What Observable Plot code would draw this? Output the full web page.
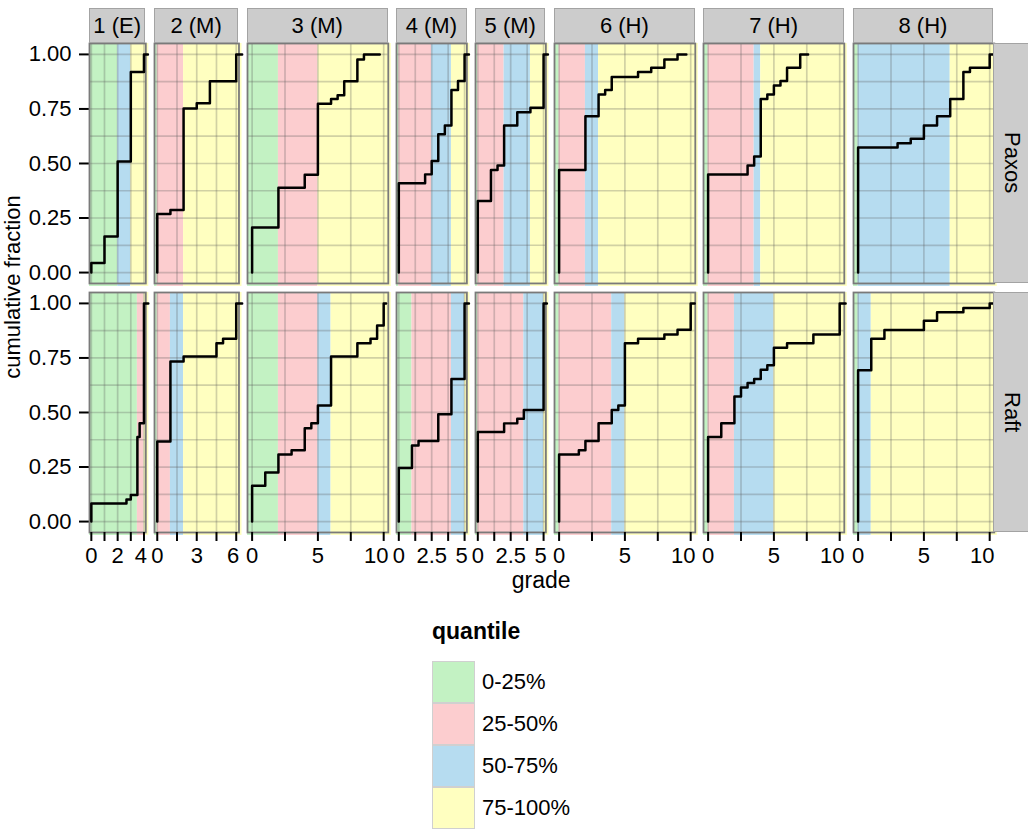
<!DOCTYPE html>
<html><head><meta charset="utf-8">
<script src="https://cdn.jsdelivr.net/npm/d3@7"></script>
<script src="https://cdn.jsdelivr.net/npm/@observablehq/plot@0.6"></script>
<style>
body{margin:0;background:#fff;font-family:"Liberation Sans",Arial,Helvetica,sans-serif;color:#000;}
#root{position:relative;width:1028px;height:833px;overflow:hidden;}
.abs{position:absolute;}
.strip{position:absolute;background:#cccccc;border:1px solid #a3a3a3;box-sizing:border-box;display:flex;align-items:center;justify-content:center;font-size:22px;color:#000;}
.vstrip{writing-mode:vertical-rl;}
.key{position:absolute;box-sizing:border-box;border:1px solid #d0d0d0;}
.lab{position:absolute;font-size:22px;line-height:22px;white-space:nowrap;}
svg [aria-label$="axis tick"], svg .tick line{stroke-width:2px;}
</style></head><body><div id="root"></div>
<script>
// ---------- data ----------
const assignments = ["1 (E)", "2 (M)", "3 (M)", "4 (M)", "5 (M)", "6 (H)", "7 (H)", "8 (H)"];
const algorithms = ["Paxos", "Raft"];
const gradeMax = [4, 6, 10, 5, 5, 10, 10, 10];
const quantileLabels = ["0-25%", "25-50%", "50-75%", "75-100%"];
const quantileColors = ["#c3f2c3", "#fccdcf", "#b6dcf0", "#ffffc0"];
const yTicks = [0, 0.25, 0.5, 0.75, 1];
const yGrid = [0, 0.125, 0.25, 0.375, 0.5, 0.625, 0.75, 0.875, 1];

// Paxos: grades where the cumulative fraction steps up, and the fraction after each step
const paxosGrades = [
  [0, 1, 2, 3, 4],
  [0, 1, 2, 3, 4, 6],
  [0, 2, 4, 5, 6, 6.5, 7, 8, 8.5],
  [0, 2, 2.5, 3, 3.5, 4, 4.5, 5],
  [0, 1, 1.5, 2, 3, 4, 5],
  [0, 2, 3, 3.5, 4, 6, 7, 8, 9],
  [0, 3, 3.5, 4, 4.5, 5, 5.5, 6, 7],
  [0, 3, 4, 5, 6, 7, 8, 8.5, 10]
];
const paxosFractions = [
  [0.044, 0.165, 0.509, 0.919, 1],
  [0.268, 0.287, 0.752, 0.776, 0.877, 1],
  [0.206, 0.389, 0.448, 0.774, 0.796, 0.813, 0.877, 0.977, 1],
  [0.409, 0.45, 0.511, 0.634, 0.674, 0.837, 0.878, 1],
  [0.328, 0.470, 0.491, 0.674, 0.735, 0.755, 1],
  [0.470, 0.717, 0.816, 0.837, 0.896, 0.919, 0.939, 0.977, 1],
  [0.45, 0.491, 0.532, 0.796, 0.816, 0.857, 0.878, 0.939, 1],
  [0.573, 0.593, 0.613, 0.674, 0.717, 0.796, 0.919, 0.939, 1]
];
const paxosLineEnd = [4.3, 6.45, 9.7, 5.33, 5.33, 9.67, 7.6, 10.25];
const paxosQuartiles = [[2, 2, 3], [0, 2, 2], [2, 5, 5], [0, 2.5, 4], [0, 2, 4], [0, 2, 3], [0, 3.5, 4], [0, 0, 7]];

// Raft
const raftGrades = [
  [0, 2.67, 3, 3.5, 3.67, 4],
  [0, 1, 2, 4.5, 5, 6],
  [0, 1, 2, 3, 4, 4.5, 5, 6, 8, 9, 9.5, 10],
  [0, 1, 1.5, 3, 4, 5],
  [0, 2, 3, 3.5, 5],
  [0, 1.5, 2, 3, 4, 4.5, 5, 6, 8, 9, 10],
  [0, 1, 2, 2.5, 3, 3.5, 4, 4.5, 5, 6, 8, 10],
  [0, 1, 2, 5, 6, 8, 10]
];
const raftFractions = [
  [0.083, 0.101, 0.122, 0.388, 0.451, 1],
  [0.367, 0.734, 0.757, 0.817, 0.838, 1],
  [0.164, 0.225, 0.307, 0.327, 0.428, 0.451, 0.532, 0.757, 0.817, 0.838, 0.899, 1],
  [0.245, 0.349, 0.369, 0.492, 0.653, 1],
  [0.410, 0.450, 0.471, 0.511, 1],
  [0.307, 0.327, 0.369, 0.451, 0.511, 0.532, 0.817, 0.838, 0.858, 0.879, 1],
  [0.388, 0.451, 0.573, 0.615, 0.635, 0.654, 0.696, 0.716, 0.797, 0.817, 0.858, 1],
  [0.694, 0.838, 0.878, 0.921, 0.960, 0.979, 1]
];
const raftLineEnd = [4.33, 6.45, 10.18, 5.33, 5.25, 10.3, 10.45, 10.25];
const raftQuartiles = [[3.5, 4, 4], [0, 1, 2], [2, 5, 6], [1, 4, 5], [0, 3.5, 5], [0, 4, 5], [0, 2, 5], [0, 0, 1]];

// ---------- layout ----------
const FONT = '"Liberation Sans", Arial, Helvetica, sans-serif';
const PX_PER_GRADE = 13.16, EXPAND = 0.035, LEFT = 89, GAP = 8.5;
const ROW_Y = [43, 291.7], ROW_H = 240;
const Y_DOMAIN = [-0.05, 1.05];
const PX_PER_FRAC = ROW_H / (Y_DOMAIN[1] - Y_DOMAIN[0]);
const OVERHANG = 3; // bands spill a few pixels past the panel, as in the original
const root = document.getElementById("root");

const series = {
  Paxos: {grades: paxosGrades, fractions: paxosFractions, end: paxosLineEnd, q: paxosQuartiles},
  Raft: {grades: raftGrades, fractions: raftFractions, end: raftLineEnd, q: raftQuartiles}
};

let xPos = LEFT;
const cols = gradeMax.map(R => {
  const lo = -EXPAND * R, hi = R * (1 + EXPAND);
  const w = (hi - lo) * PX_PER_GRADE;
  const c = {x: xPos, w, lo, hi, R};
  xPos += w + GAP;
  return c;
});
const fmtX = d3.format("~g");

function addDiv(cls, style, text) {
  const d = document.createElement("div");
  d.className = cls;
  Object.assign(d.style, style);
  if (text != null) d.textContent = text;
  root.appendChild(d);
  return d;
}

algorithms.forEach((alg, r) => {
  const s = series[alg];
  cols.forEach((col, c) => {
    const R = col.R;
    const xTicks = [0, R / 4, R / 2, 3 * R / 4, R];
    const [q25, q50, q75] = s.q[c];
    const edges = [col.lo, q25, q50, q75, col.hi + OVERHANG / PX_PER_GRADE];
    const bands = quantileLabels.map((lab, i) => ({x1: edges[i], x2: edges[i + 1], quantile: lab, color: quantileColors[i]}))
      .filter(b => b.x2 > b.x1);
    const g = s.grades[c], f = s.fractions[c];
    const pts = [{x: g[0], y: 0}, ...g.map((v, i) => ({x: v, y: f[i]})), {x: s.end[c], y: f[f.length - 1]}];
    const ml = c === 0 ? LEFT : 0;
    const mb = r === 1 ? 60 : 0;
    const axisMarks = r === 1 ? [
      Plot.axisX(xTicks, {tickSize: 9, tickFormat: () => "", strokeWidth: 2}),
      Plot.axisX([0, R / 2], {tickSize: 0, tickPadding: 15, tickFormat: fmtX}),
      Plot.axisX([R], {tickSize: 0, tickPadding: 15, tickFormat: fmtX, dx: R >= 10 ? -7.5 : -3})
    ] : [];
    const svg = Plot.plot({
      width: col.w + ml,
      height: ROW_H + mb,
      marginLeft: ml, marginRight: 0, marginTop: 0, marginBottom: mb,
      style: {background: "transparent", overflow: "visible", maxWidth: "none", fontFamily: FONT, fontSize: "22px", color: "black"},
      x: {domain: [col.lo, col.hi], label: null, axis: r === 1 ? undefined : null},
      y: {domain: Y_DOMAIN, ticks: yTicks, tickFormat: d3.format(".2f"), tickSize: 10, tickPadding: 8, label: null, axis: c === 0 ? "left" : null},
      marks: [
        Plot.rect(bands, {x1: "x1", x2: "x2", y1: Y_DOMAIN[0] - OVERHANG / PX_PER_FRAC, y2: Y_DOMAIN[1], fill: "color"}),
        Plot.ruleY(yGrid, {stroke: "#5a5a5a", strokeOpacity: 0.28, strokeWidth: 1.7}),
        Plot.ruleX(xTicks, {stroke: "#5a5a5a", strokeOpacity: 0.28, strokeWidth: 1.7}),
        Plot.frame({stroke: "#7a7a7a", strokeWidth: 1.8}),
        Plot.line(pts, {x: "x", y: "y", curve: "step-after", stroke: "black", strokeWidth: 2.5}),
        ...axisMarks
      ]
    });
    const wrap = addDiv("abs", {left: (col.x - ml) + "px", top: ROW_Y[r] + "px", width: (col.w + ml) + "px"});
    wrap.appendChild(svg);
  });
  // right strip
  addDiv("strip vstrip", {left: (xPos - GAP) + "px", top: ROW_Y[r] + "px", width: (1028 - (xPos - GAP) + 2) + "px", height: ROW_H + "px"}, alg);
});

// top strips
cols.forEach((col, c) => {
  addDiv("strip", {left: col.x + "px", top: "8px", width: col.w + "px", height: "35px"}, assignments[c]);
});

// axis titles
addDiv("lab", {left: "13px", top: "287px", transform: "translate(-50%,-50%) rotate(-90deg)", fontSize: "22px", lineHeight: "24px"}, "cumulative fraction");
addDiv("lab", {left: ((LEFT + xPos - GAP) / 2) + "px", top: "580px", transform: "translate(-50%,-50%)", fontSize: "23px", lineHeight: "23px"}, "grade");

// legend
addDiv("lab", {left: "432px", top: "620px", fontWeight: "bold", fontSize: "23px", lineHeight: "23px"}, "quantile");
quantileLabels.forEach((lab, i) => {
  addDiv("key", {left: "432px", top: (661 + i * 42) + "px", width: "43px", height: "42px", background: quantileColors[i]});
  addDiv("lab", {left: "482px", top: (661 + i * 42 + 21) + "px", transform: "translateY(-50%)"}, lab);
});
</script></body></html>
